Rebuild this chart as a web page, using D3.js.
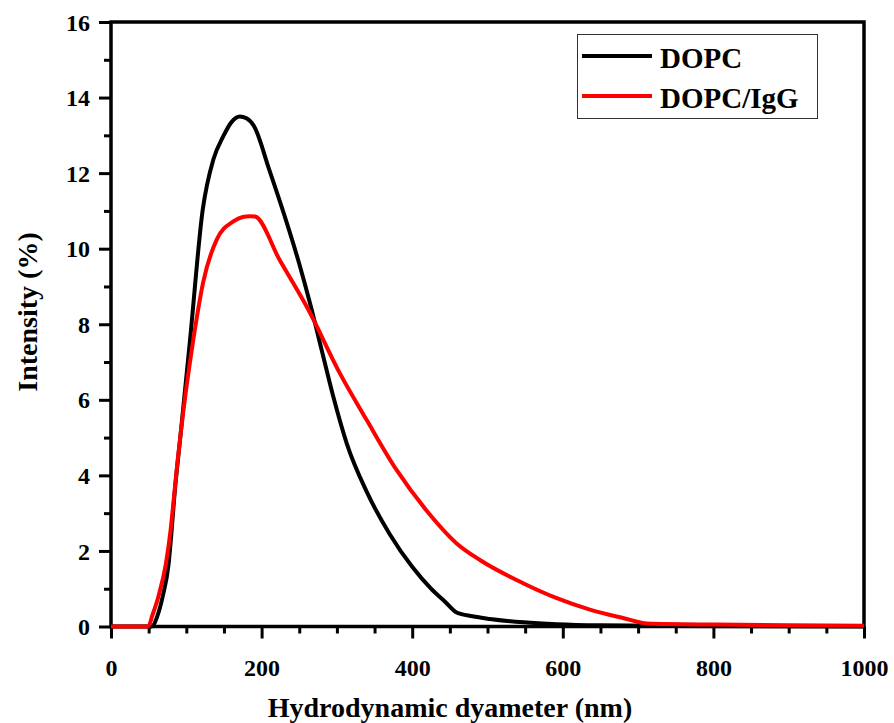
<!DOCTYPE html>
<html>
<head>
<meta charset="utf-8">
<script src="https://cdn.jsdelivr.net/npm/d3@7"></script>
<style>
  body { margin: 0; background: #fff; }
  svg text { font-family: "Liberation Serif", "Times New Roman", serif; font-weight: bold; fill: #000; }
</style>
</head>
<body>
<div id="chart"></div>
<script>
// DOPC (black)
const dopcX = [0, 50, 54, 62, 68.6, 76.6, 80.6, 84.1, 92, 105, 121.8, 135.9, 149, 160, 171, 180, 190, 210, 230, 250, 265, 280, 295, 313, 340, 370, 400, 425, 445, 459, 480, 503, 548, 592, 650, 750, 1000];
const dopcY = [0, 0, 0, 0.3, 0.79, 1.67, 2.56, 3.44, 5.0, 7.59, 11.03, 12.36, 12.97, 13.35, 13.5, 13.45, 13.24, 12.1, 10.9, 9.6, 8.5, 7.3, 6.1, 4.85, 3.55, 2.45, 1.58, 1.0, 0.63, 0.37, 0.27, 0.2, 0.11, 0.06, 0.03, 0.015, 0];
// DOPC/IgG (red)
const iggX = [0, 49.5, 55, 62.9, 73, 79.2, 83.7, 88.1, 92.5, 109.3, 122.6, 140.4, 162.4, 175, 184.6, 191.2, 224, 262, 304, 340, 379, 419, 459, 490, 548, 592, 637, 681, 712, 804, 900, 1000];
const iggY = [0, 0, 0.3, 0.79, 1.67, 2.56, 3.44, 4.32, 5.11, 7.59, 9.13, 10.24, 10.72, 10.84, 10.86, 10.85, 9.7, 8.39, 6.7, 5.45, 4.15, 3.07, 2.2, 1.76, 1.14, 0.75, 0.44, 0.22, 0.08, 0.05, 0.03, 0.02];

const xTicks = [0, 200, 400, 600, 800, 1000];
const yTicks = [0, 2, 4, 6, 8, 10, 12, 14, 16];
const seriesNames = ['DOPC', 'DOPC/IgG'];
const seriesColors = ['#000000', '#ff0000'];

const W = 894, H = 723;
const margin = { top: 22, right: 30, bottom: 96.5, left: 111 };
const width = 864 - margin.left;
const height = 626.5 - margin.top;

const svg = d3.select('#chart').append('svg')
  .attr('width', W).attr('height', H);
const g = svg.append('g').attr('transform', `translate(${margin.left},${margin.top})`);

const x = d3.scaleLinear().domain([0, 1000]).range([0, width]);
const y = d3.scaleLinear().domain([0, 16]).range([height, 0]);

// minor ticks
const xMinor = d3.range(0, 1001, 50).filter(v => v % 200 !== 0);
const yMinor = d3.range(1, 16, 2);

g.append('g').attr('transform', `translate(0,${height})`)
  .call(d3.axisBottom(x).tickValues(xMinor).tickSize(7).tickFormat(''))
  .call(a => a.select('.domain').remove())
  .selectAll('line').attr('stroke-width', 3);
g.append('g')
  .call(d3.axisLeft(y).tickValues(yMinor).tickSize(7).tickFormat(''))
  .call(a => a.select('.domain').remove())
  .selectAll('line').attr('stroke-width', 3);

// major axes
const xAxis = g.append('g').attr('transform', `translate(0,${height})`)
  .call(d3.axisBottom(x).tickValues(xTicks).tickSize(12).tickPadding(20).tickFormat(d3.format('d')));
const yAxis = g.append('g')
  .call(d3.axisLeft(y).tickValues(yTicks).tickSize(12).tickPadding(9).tickFormat(d3.format('d')));
[xAxis, yAxis].forEach(a => {
  a.select('.domain').remove();
  a.selectAll('line').attr('stroke-width', 3);
  a.selectAll('text').style('font-size', '24px');
});
yAxis.selectAll('text').attr('dy', '0.34em');

// frame
g.append('rect').attr('x', 0).attr('y', 0).attr('width', width).attr('height', height)
  .attr('fill', 'none').attr('stroke', '#000').attr('stroke-width', 3.5);

const line = d3.line().x(d => x(d[0])).y(d => y(d[1])).curve(d3.curveMonotoneX);
const series = [d3.zip(dopcX, dopcY), d3.zip(iggX, iggY)];
series.forEach((s, i) => {
  g.append('path').datum(s)
    .attr('fill', 'none').attr('stroke', seriesColors[i])
    .attr('stroke-width', 4).attr('stroke-linejoin', 'round')
    .attr('d', line);
});

// axis titles
svg.append('text').attr('x', 450).attr('y', 717).attr('text-anchor', 'middle')
  .style('font-size', '28px').text('Hydrodynamic dyameter (nm)');
svg.append('text').attr('transform', 'translate(37,312) rotate(-90)').attr('text-anchor', 'middle')
  .style('font-size', '28px').text('Intensity (%)');

// legend
const legend = svg.append('g');
legend.append('rect').attr('x', 577.5).attr('y', 34.5).attr('width', 240).attr('height', 84)
  .attr('fill', '#fff').attr('stroke', '#333').attr('stroke-width', 1);
seriesNames.forEach((name, i) => {
  const ly = 56 + i * 40;
  legend.append('line').attr('x1', 582).attr('x2', 652).attr('y1', ly).attr('y2', ly)
    .attr('stroke', seriesColors[i]).attr('stroke-width', 4);
  legend.append('text').attr('x', 660).attr('y', ly + 12).style('font-size', '29px').text(name);
});
</script>
</body>
</html>
